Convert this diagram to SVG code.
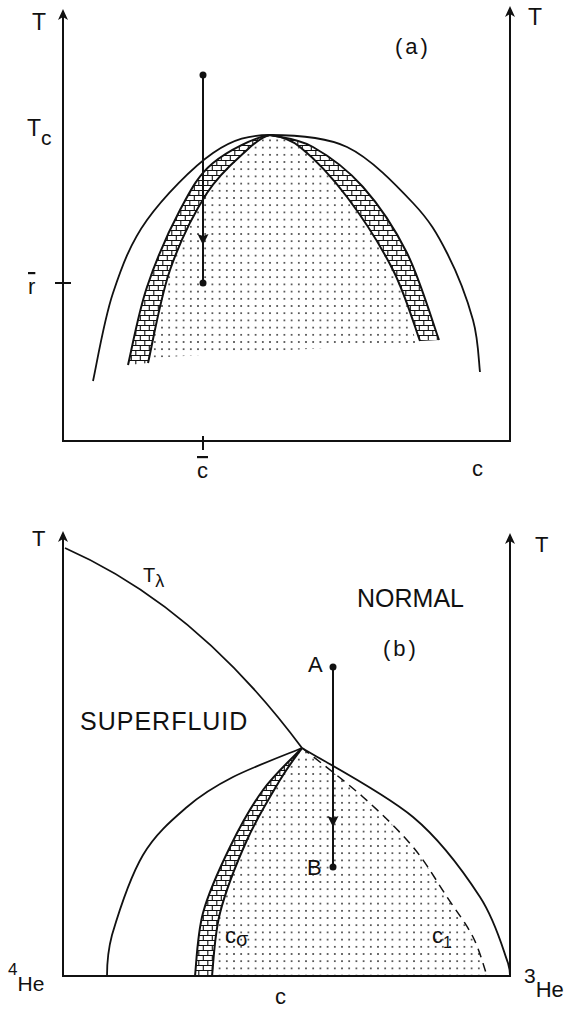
<svg xmlns="http://www.w3.org/2000/svg" width="572" height="1011" viewBox="0 0 572 1011">
<style>
.ax{fill:none;stroke:#111;stroke-width:2}
.cv{fill:none;stroke:#111;stroke-width:1.8}
.ed{fill:none;stroke:#111;stroke-width:2}
.ds{fill:none;stroke:#111;stroke-width:1.5;stroke-dasharray:9 6}
.dots{fill:url(#dotpat);stroke:none}
.brick{fill:url(#brickpat);stroke:none}
.pt{fill:#111}
.lbl{font-family:"Liberation Sans",Arial,sans-serif;fill:#111}
</style>
<defs>
<pattern id="dotpat" patternUnits="userSpaceOnUse" width="7.2" height="7.2">
<circle cx="3.6" cy="3.6" r="0.9" fill="#222"/>
</pattern>
<pattern id="brickpat" patternUnits="userSpaceOnUse" width="9" height="10">
<rect width="9" height="10" fill="#fff"/>
<path d="M0,0.5H9M0,5.5H9M0.8,0V5M5.3,5V10" stroke="#111" stroke-width="1.1" fill="none"/>
</pattern>
<marker id="axarrow" viewBox="-11 -6 14 12" refX="0" refY="0" markerWidth="14" markerHeight="12" markerUnits="userSpaceOnUse" orient="auto-start-reverse">
<path d="M2,0 L-9,-5 L-6,0 L-9,5 Z" fill="#111"/>
</marker>
<marker id="midarrow" viewBox="-9 -7 16 14" refX="0" refY="0" markerWidth="16" markerHeight="14" markerUnits="userSpaceOnUse" orient="auto">
<path d="M5,0 L-6,-5.5 L-4,0 L-6,5.5 Z" fill="#111"/>
</marker>
</defs>
<rect width="572" height="1011" fill="#fff"/>

<g id="panel-a">
<g id="a-regions">
<path class="dots" d="M149,358 C152,345 160.2,298.3 170,270 C179.8,241.7 194.2,213 207,193 C219.8,173 236.5,159.7 247,150 C257.5,140.3 264,136 270,135 C276,136 287.2,136.7 300,147 C312.8,157.3 331.5,176.5 347,197 C362.5,217.5 380.8,246 393,270 C405.2,294 412,325 416,343 Z"/>
<path class="brick" d="M128,365 C131.2,352 138.3,312.8 147,287 C155.7,261.2 169,230.7 180,210 C191,189.3 198,175.5 213,163 C228,150.5 255,137 270,135 C264,136 257.5,140.3 247,150 C236.5,159.7 219.8,173 207,193 C194.2,213 179.8,241.7 170,270 C160.2,298.3 151.7,347.5 148,363 Z"/>
<path class="brick" d="M270,135 C277.2,137 297.5,138.3 313,147 C328.5,155.7 347.3,169.3 363,187 C378.7,204.7 394.3,227.5 407,253 C419.7,278.5 433.7,325.5 439,340 L420,341 C415.5,329.2 405.2,294 393,270 C380.8,246 362.5,217.5 347,197 C331.5,176.5 312.8,157.3 300,147 C287.2,136.7 276,136 270,135 Z"/>
</g>
<g id="a-curves">
<path class="cv" d="M93,381 C96.3,366.3 104,319.8 113,293 C122,266.2 130.3,243.3 147,220 C163.7,196.7 192.5,167.2 213,153 C233.5,138.8 250,135 270,135 C290,135 323.2,135.7 347,147 C370.8,158.3 396.3,185.3 413,203 C429.7,220.7 437,233.5 447,253 C457,272.5 467.5,300.2 473,320 C478.5,339.8 478.8,363.3 480,372"/>
<path class="ed" d="M128,365 C131.2,352 138.3,312.8 147,287 C155.7,261.2 169,230.7 180,210 C191,189.3 198,175.5 213,163 C228,150.5 255,137 270,135"/>
<path class="ed" d="M148,363 C151.7,347.5 160.2,298.3 170,270 C179.8,241.7 194.2,213 207,193 C219.8,173 236.5,159.7 247,150 C257.5,140.3 264,136 270,135"/>
<path class="ed" d="M270,135 C277.2,137 297.5,138.3 313,147 C328.5,155.7 347.3,169.3 363,187 C378.7,204.7 394.3,227.5 407,253 C419.7,278.5 433.7,325.5 439,340"/>
<path class="ed" d="M270,135 C276,136 287.2,136.7 300,147 C312.8,157.3 331.5,176.5 347,197 C362.5,217.5 380.8,246 393,270 C405.2,294 415.5,329.2 420,341"/>
</g>
<g id="a-axes">
<path class="ax" d="M63,11 L63,441 L510,441 L510,8" marker-start="url(#axarrow)" marker-end="url(#axarrow)"/>
<path class="ax" d="M55,283 H71 M203,436 V450"/>
</g>
<g id="a-labels">
<text class="lbl" x="32" y="30" font-size="23">T</text>
<text class="lbl" x="528" y="25" font-size="23">T</text>
<text class="lbl" x="395" y="54" font-size="22" letter-spacing="3">(a)</text>
<text class="lbl" x="27" y="136" font-size="23">T<tspan font-size="21" dy="9">c</tspan></text>
<text class="lbl" x="28" y="294" font-size="22" text-decoration="overline">r</text>
<text class="lbl" x="197" y="478" font-size="22" text-decoration="overline">c</text>
<text class="lbl" x="472" y="476" font-size="22">c</text>
</g>
</g>

<g id="panel-b">
<g id="b-regions">
<path class="dots" d="M212,976 C213.3,965.5 214.2,935.7 220,913 C225.8,890.3 237,862.2 247,840 C257,817.8 270.8,795.3 280,780 C289.2,764.7 298.3,753.3 302,748 C312.2,756.2 344.5,780.5 363,797 C381.5,813.5 399,830.3 413,847 C427,863.7 437,882 447,897 C457,912 466.3,923.8 473,937 C479.7,950.2 484.7,969.5 487,976 Z"/>
<path class="brick" d="M195,976 C196.3,965.5 197.2,934.5 203,913 C208.8,891.5 220,867.5 230,847 C240,826.5 251,806.5 263,790 C275,773.5 295.5,755 302,748 C298.3,753.3 289.2,764.7 280,780 C270.8,795.3 257,817.8 247,840 C237,862.2 225.8,890.3 220,913 C214.2,935.7 213.3,965.5 212,976 Z"/>
</g>
<g id="b-curves">
<path class="cv" d="M65,548 Q196.5,606 302,748"/>
<path class="cv" d="M107,976 C107,965 108,950 112,935 C118,914.8 130.5,876.3 143,855 C155.5,833.7 172,820 187,807 C202,794 213.8,786.8 233,777 C252.2,767.2 290.5,752.8 302,748"/>
<path class="cv" d="M302,748 C320.5,759.5 383.3,792.2 413,817 C442.7,841.8 464.2,872.7 480,897 C495.8,921.3 503,949.8 508,963 C509.5,968 510,973 510,976"/>
<path class="ds" d="M302,748 C312.2,756.2 344.5,780.5 363,797 C381.5,813.5 399,830.3 413,847 C427,863.7 437,882 447,897 C457,912 466.3,923.8 473,937 C479.7,950.2 484.7,969.5 487,976"/>
<path class="ed" d="M195,976 C196.3,965.5 197.2,934.5 203,913 C208.8,891.5 220,867.5 230,847 C240,826.5 251,806.5 263,790 C275,773.5 295.5,755 302,748"/>
<path class="ed" d="M212,976 C213.3,965.5 214.2,935.7 220,913 C225.8,890.3 237,862.2 247,840 C257,817.8 270.8,795.3 280,780 C289.2,764.7 298.3,753.3 302,748"/>
</g>
<g id="b-axes">
<path class="ax" d="M63,533 L63,976 L510,976 L510,535" marker-start="url(#axarrow)" marker-end="url(#axarrow)"/>
</g>
<g id="b-labels">
<text class="lbl" x="32" y="546" font-size="22">T</text>
<text class="lbl" x="535" y="552" font-size="22">T</text>
<text class="lbl" x="143" y="582" font-size="20">T<tspan font-size="18" dy="5">λ</tspan></text>
<text class="lbl" x="80" y="730" font-size="25" letter-spacing="1">SUPERFLUID</text>
<text class="lbl" x="357" y="607" font-size="25">NORMAL</text>
<text class="lbl" x="383" y="656" font-size="22" letter-spacing="3">(b)</text>
<text class="lbl" x="308" y="672" font-size="22">A</text>
<text class="lbl" x="307" y="875" font-size="22">B</text>
<text class="lbl" x="225" y="943" font-size="22">c<tspan font-size="20" dy="3">σ</tspan></text>
<text class="lbl" x="432" y="943" font-size="22">c<tspan font-size="16" dy="5">1</tspan></text>
<text class="lbl" x="275" y="1004" font-size="22">c</text>
<text class="lbl" x="8" y="975" font-size="17">4<tspan font-size="21" dy="16">He</tspan></text>
<text class="lbl" x="524" y="983" font-size="21">3<tspan font-size="22" dy="14">He</tspan></text>
</g>
</g>

<g id="connectors">
<path class="ax" d="M203,75 L203,240 L203,283" marker-mid="url(#midarrow)"/>
<circle class="pt" cx="203" cy="75" r="3.5"/>
<circle class="pt" cx="203" cy="283" r="3.5"/>
<path class="ax" d="M333,667 L333,822 L333,867" marker-mid="url(#midarrow)"/>
<circle class="pt" cx="333" cy="667" r="3.5"/>
<circle class="pt" cx="333" cy="867" r="3.5"/>
</g>
</svg>
